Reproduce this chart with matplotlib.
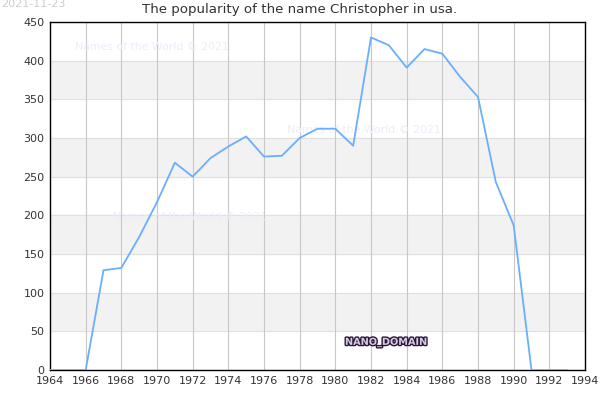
import matplotlib
matplotlib.use("Agg")
import matplotlib.pyplot as plt
import matplotlib.patheffects as pe

years = list(range(1964, 1994))
counts = [0, 0, 0, 129, 132, 172, 217, 268, 250, 274, 289, 302, 276, 277, 300,
          312, 312, 290, 430, 420, 391, 415, 409, 379, 353, 243, 187, 0, 0, 0]
xticks = list(range(1964, 1995, 2))
yticks = list(range(0, 451, 50))

fig = plt.figure(figsize=(6, 4), dpi=100)
ax = fig.add_axes([50/600, 30/400, 535/600, 348/400])

# alternating bands
for lo in range(50, 450, 100):
    ax.axhspan(lo, lo + 50, color="#f2f2f2", zorder=0)
for y in yticks:
    ax.axhline(y, color="#e0e0e0", lw=0.8, zorder=0.5)
for x in xticks:
    ax.axvline(x, color="#c8c8c8", lw=0.8, zorder=0.5)

ax.plot(years, counts, color="#6aaeff", lw=1.3, zorder=3)

ax.set_xlim(1964, 1994)
ax.set_ylim(0, 450)
ax.set_xticks(xticks)
ax.set_yticks(yticks)
ax.tick_params(labelsize=8, colors="#333333", length=0, pad=4)
for s in ax.spines.values():
    s.set_color("black")
    s.set_linewidth(1)

fig.text(0.5, 0.975, "The popularity of the name Christopher in usa.",
         ha="center", va="center", fontsize=9.6, color="#333333")
fig.text(0.002, 0.99, "2021-11-23", ha="left", va="center", fontsize=8, color="#cccccc")

# watermarks sit under the line
wm = "Names of the World \u00a9 2021"
for px, py in [(75, 47), (287, 130), (113, 217)]:
    ax.text(px/600, 1 - py/400, wm, ha="left", va="center", fontsize=7.8,
            color="#ededfa", zorder=2, transform=fig.transFigure, clip_on=False)

t = fig.text(345/600, 1 - 342/400, "NANO_DOMAIN", ha="left", va="center",
             fontsize=7, color="#d9cce6", fontweight="bold", zorder=5)
t.set_path_effects([pe.Stroke(linewidth=2, foreground="#2b1838"), pe.Normal()])

fig.savefig("out.png", dpi=100)
